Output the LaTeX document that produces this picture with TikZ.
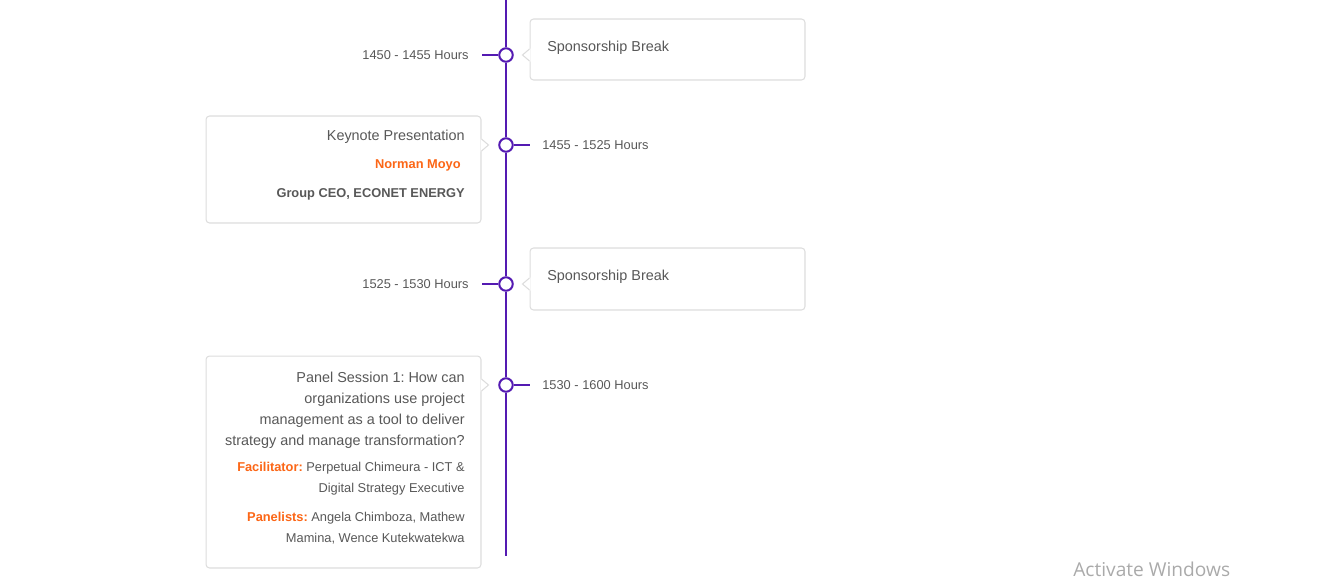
\documentclass[tikz,border=0pt]{standalone}
\usepackage{fontspec}
\setmainfont{Liberation Sans}
\newfontfamily\winfont{Open Sans}
\usetikzlibrary{positioning, calc}
\definecolor{agpurple}{RGB}{84,26,178}
\definecolor{agline}{RGB}{221,221,221}
\definecolor{agtext}{RGB}{88,88,88}
\definecolor{agorange}{RGB}{252,102,22}
\definecolor{agwin}{RGB}{170,170,170}
\frenchspacing

\begin{document}
\begin{tikzpicture}[x=0.02cm, y=-0.02cm,
  tline/.style={draw=agpurple, line width=0.75pt},
  dot/.style={circle, draw=agpurple, fill=white, line width=1.15pt, minimum size=0.27cm, inner sep=0pt},
  card/.style={draw=agline, fill=white, line width=0.6pt, rounded corners=2pt, minimum width=5.5cm},
  time/.style={font=\fontsize{7.3}{9}\selectfont, text=agtext, inner sep=0pt},
  title/.style={font=\fontsize{8.2}{11.95}\selectfont, text=agtext, inner sep=0pt, align=right},
  small/.style={font=\fontsize{7.3}{11.95}\selectfont, text=agtext, inner sep=0pt, align=right},
  who/.style={font=\bfseries\fontsize{7.3}{9}\selectfont, inner sep=0pt}]

\useasboundingbox (0,0) rectangle (1343,579);

% Session cards
\node[card, minimum height=1.22cm] (brk1) at (667.5,49.5) {};
\node[card, minimum height=2.14cm] (keynote) at (343.5,169.5) {};
\node[card, minimum height=1.24cm] (brk2) at (667.5,279) {};
\node[card, minimum height=4.24cm] (panel) at (343.5,462) {};

% Timeline dots and spine
\foreach \i/\y in {1/55,2/145,3/284,4/385}
  \node[dot] (dot\i) at (506,\y) {};
\coordinate (top) at (506,0);
\coordinate (bottom) at (506,556);
\foreach \a/\b in {top/dot1, dot1/dot2, dot2/dot3, dot3/dot4, dot4/bottom}
  \draw[tline] (\a) -- (\b);

% Stubs
\coordinate (s1) at (482,55);
\coordinate (s2) at (530,145);
\coordinate (s3) at (482,284);
\coordinate (s4) at (530,385);
\foreach \i in {1,...,4}
  \draw[tline, line width=0.85pt] (dot\i) -- (s\i);

% Pointers on the cards
\foreach \b/\d/\a/\sg in {brk1/dot1/west/-1, keynote/dot2/east/1, brk2/dot3/west/-1, panel/dot4/east/1} {
  \fill[white] (\b.\a |- \d) ++(-\sg,-6.5) -- ++(8*\sg,6.5) -- ++(-8*\sg,6.5) -- cycle;
  \draw[draw=agline, line width=0.6pt] (\b.\a |- \d) ++(0,-6) -- ++(7*\sg,6) -- ++(-7*\sg,6);
}

% Times
\node[time, anchor=east] (t1) at (469,55) {1450 - 1455 Hours};
\node[time, anchor=west] (t2) at (542,145) {1455 - 1525 Hours};
\node[time, anchor=east] (t3) at (469,284) {1525 - 1530 Hours};
\node[time, anchor=west] (t4) at (542,385) {1530 - 1600 Hours};

% Card texts (base = last line)
\node[title, anchor=base west] (brk1txt) at (547,51.2) {Sponsorship Break};
\node[title, anchor=base east] (keytitle) at (465,140.5) {Keynote Presentation};
\node[who, text=agorange, anchor=base east] (keyname) at (461,168.6) {Norman Moyo};
\node[who, text=agtext, anchor=base east] (keyrole) at (465,197.6) {Group CEO, ECONET ENERGY};
\node[title, anchor=base west] (brk2txt) at (547,280.2) {Sponsorship Break};
\node[title, anchor=base east] (paneltitle) at (465,445) {Panel Session 1: How can\\organizations use project\\management as a tool to deliver\\strategy and manage transformation?};
\node[small, anchor=base east] (panelfac) at (465,492.6) {{\color{agorange}\bfseries Facilitator:} Perpetual Chimeura - ICT \&\\Digital Strategy Executive};
\node[small, anchor=base east] (panelists) at (465,542.6) {{\color{agorange}\bfseries Panelists:} Angela Chimboza, Mathew\\Mamina, Wence Kutekwatekwa};

% Watermark
\node[font=\winfont\fontsize{10.9}{13}\selectfont, text=agwin, anchor=west, inner sep=0pt] (watermark) at (1073,569.3) {Activate Windows};

\end{tikzpicture}
\end{document}
